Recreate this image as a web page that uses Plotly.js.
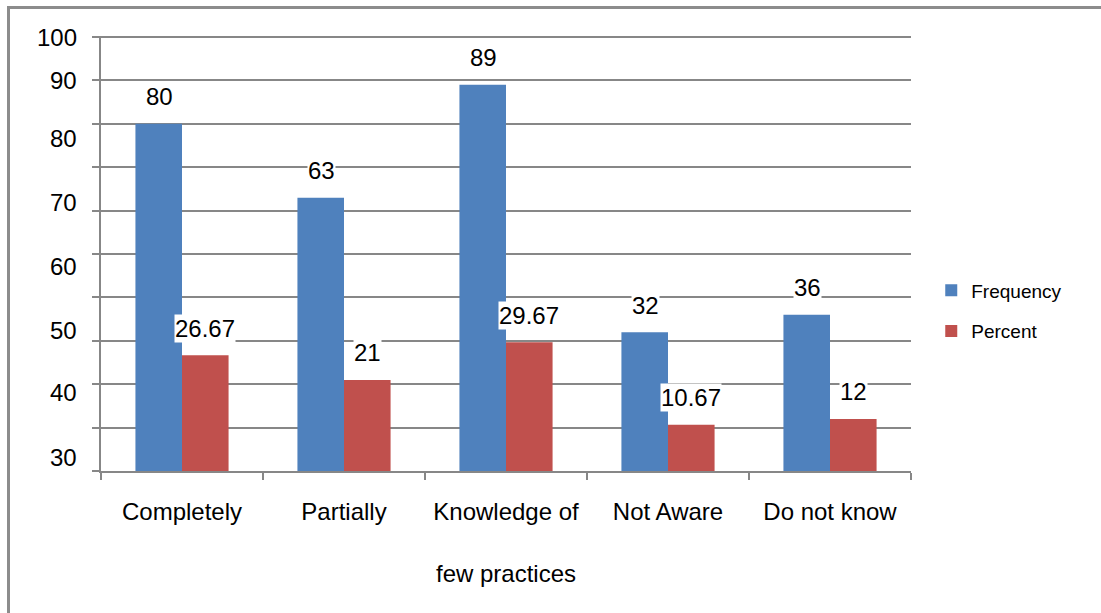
<!DOCTYPE html>
<html>
<head>
<meta charset="utf-8">
<script src="https://cdn.plot.ly/plotly-3.0.1.min.js"></script>
<style>
  html, body { margin: 0; padding: 0; background: #fff; overflow: hidden; }
  #wrap { position: relative; width: 1101px; height: 613px; }
  #chart { width: 1101px; height: 613px; }
  #frame { position: absolute; left: 7px; top: 6px; width: 1101px; height: 620px;
           border-left: 3px solid #8c8c8c; border-top: 3px solid #8c8c8c;
           pointer-events: none; box-sizing: border-box; }
</style>
</head>
<body>
<div id="wrap">
  <div id="chart"></div>
  <div id="frame"></div>
</div>
<script>
// ---- data ----
const categories = ["Completely", "Partially", "Knowledge of few practices", "Not Aware", "Do not know"];
const categoryTickText = ["Completely", "Partially", "Knowledge of<br> <br>few practices", "Not Aware", "Do not know"];
const frequency = [80, 63, 89, 32, 36];
const percent = [26.67, 21, 29.67, 10.67, 12];
const frequencyLabels = ["80", "63", "89", "32", "36"];
const percentLabels = ["26.67", "21", "29.67", "10.67", "12"];
// y tick labels as printed in the reference, and where they sit on the 0-100 scale
const yTickText = ["100", "90", "80", "70", "60", "50", "40", "30"];
const yTickPos = [100, 89.9, 76.7, 61.8, 47.2, 32.3, 18.0, 3.2];

const FONT = "Liberation Sans, Arial, sans-serif";
const GRID = "#878787";
const BLUE = "#4F81BD";
const RED = "#C0504D";

const traces = [
  { type: "bar", name: "Frequency", x: categories, y: frequency, marker: { color: BLUE },
    legendgroup: "f", hoverinfo: "skip" },
  { type: "bar", name: "Percent", x: categories, y: percent, marker: { color: RED },
    legendgroup: "p", hoverinfo: "skip" }
];

const annotations = [];
categories.forEach((c, i) => {
  annotations.push({ x: c, y: frequency[i], xref: "x", yref: "y", text: frequencyLabels[i],
    showarrow: false, xshift: -23, yshift: 27, yanchor: "middle",
    bgcolor: "#ffffff", borderpad: 0, font: { family: FONT, size: 24, color: "#000" } });
  annotations.push({ x: c, y: percent[i], xref: "x", yref: "y", text: percentLabels[i],
    showarrow: false, xshift: 23, yshift: 27, yanchor: "middle",
    bgcolor: "#ffffff", borderpad: 0, font: { family: FONT, size: 24, color: "#000" } });
});
// y-axis tick labels (placed where the reference prints them)
yTickText.forEach((t, i) => {
  annotations.push({ x: 0, xref: "paper", y: yTickPos[i], yref: "y", text: t,
    showarrow: false, xanchor: "right", yanchor: "middle", xshift: -22,
    font: { family: FONT, size: 24, color: "#000" } });
});

const layout = {
  width: 1101, height: 613,
  margin: { l: 101, r: 190, t: 36, b: 142, pad: 0 },
  paper_bgcolor: "#ffffff", plot_bgcolor: "#ffffff",
  font: { family: FONT, size: 24, color: "#000" },
  barmode: "group", bargap: 0.425, bargroupgap: 0,
  showlegend: true,
  legend: { x: 1.025, xanchor: "left", y: 0.368, yanchor: "middle",
            font: { family: FONT, size: 19, color: "#000" },
            traceorder: "grouped", tracegroupgap: 13, bgcolor: "rgba(0,0,0,0)" },
  xaxis: {
    type: "category", tickvals: categories, ticktext: categoryTickText,
    showline: true, linecolor: GRID, linewidth: 2,
    ticks: "outside", tickson: "boundaries", ticklen: 7, tickcolor: GRID, tickwidth: 2,
    ticklabelstandoff: 18,
    showgrid: false, zeroline: false,
    tickfont: { family: FONT, size: 24, color: "#000" }
  },
  yaxis: {
    range: [0, 100.25], tickmode: "linear", dtick: 10, tick0: 0,
    showgrid: true, gridcolor: GRID, gridwidth: 2,
    showline: true, linecolor: GRID, linewidth: 2,
    ticks: "outside", ticklen: 7, tickcolor: GRID, tickwidth: 2,
    showticklabels: false, zeroline: false
  },
  annotations: annotations
};

Plotly.newPlot("chart", traces, layout, { staticPlot: true, displayModeBar: false });
</script>
</body>
</html>
